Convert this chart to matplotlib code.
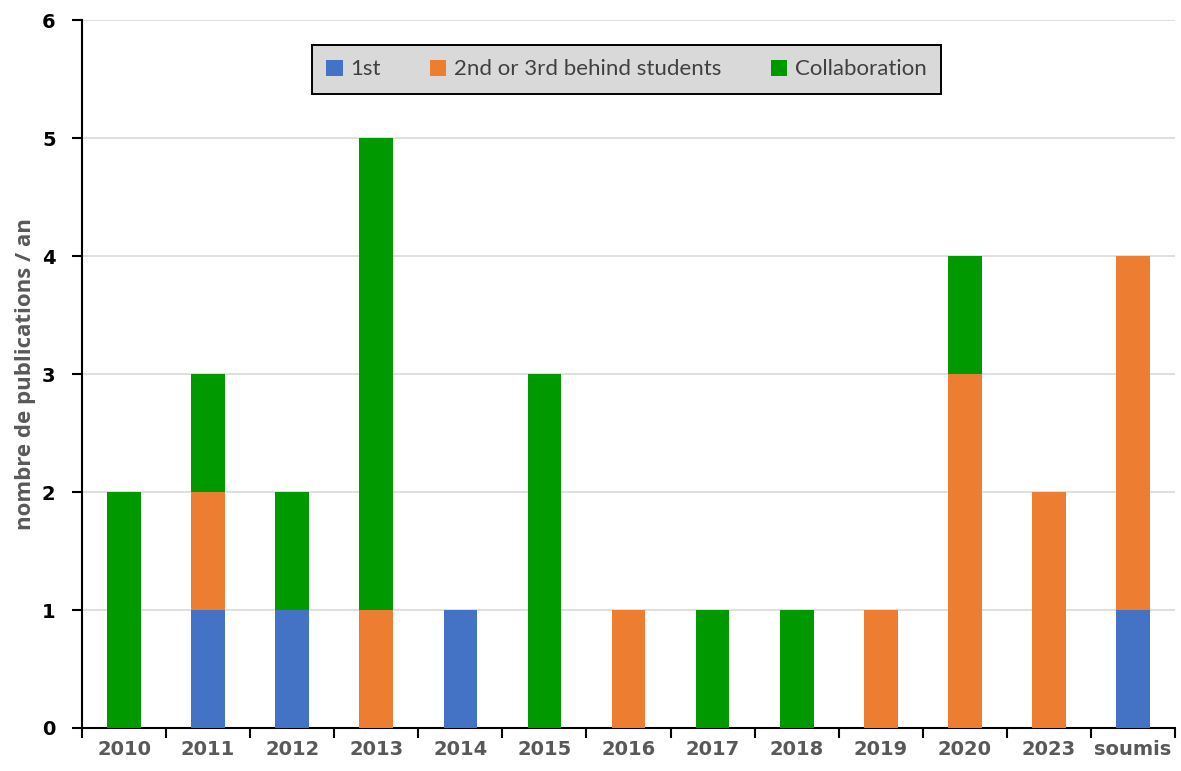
import numpy as np
import matplotlib.pyplot as plt

categories = ["2010", "2011", "2012", "2013", "2014", "2015", "2016",
              "2017", "2018", "2019", "2020", "2023", "soumis"]
first = [0, 1, 1, 0, 1, 0, 0, 0, 0, 0, 0, 0, 1]
second_third = [0, 1, 0, 1, 0, 0, 1, 0, 0, 1, 3, 2, 3]
collab = [2, 1, 1, 4, 0, 3, 0, 1, 1, 0, 1, 0, 0]

c_blue = "#4472c4"
c_orange = "#ed7d31"
c_green = "#009900"

fig = plt.figure(figsize=(11.81, 7.71), dpi=100)
ax = fig.add_axes([0.0694, 0.0558, 0.9256, 0.918])

x = np.arange(len(categories))
w = 0.4
first = np.array(first)
second_third = np.array(second_third)
collab = np.array(collab)

ax.bar(x, first, w, color=c_blue, label="1st", zorder=3)
ax.bar(x, second_third, w, bottom=first, color=c_orange,
       label="2nd or 3rd behind students", zorder=3)
ax.bar(x, collab, w, bottom=first + second_third, color=c_green,
       label="Collaboration", zorder=3)

ax.set_xlim(-0.5, len(categories) - 0.5)
ax.set_ylim(0, 6)
ax.set_yticks(range(7))
ax.yaxis.grid(True, color="#d9d9d9", linewidth=1.2, zorder=0)
ax.set_axisbelow(True)

# x ticks at category boundaries, labels centred
ax.set_xticks(np.arange(-0.5, len(categories)), minor=False)
ax.set_xticklabels([])
ax.set_xticks(x, minor=True)
ax.set_xticklabels(categories, minor=True)
ax.tick_params(axis="x", which="major", direction="out", length=7, width=1.5, color="black")
ax.tick_params(axis="x", which="minor", length=0, pad=9,
               labelsize=14, labelcolor="#595959")
for t in ax.get_xticklabels(minor=True):
    t.set_fontweight("bold")
ax.tick_params(axis="y", direction="out", length=7, width=1.5, labelsize=14, pad=12)
for t in ax.get_yticklabels():
    t.set_fontweight("bold")

for s in ["top", "right"]:
    ax.spines[s].set_visible(False)
ax.spines["left"].set_linewidth(1.5)
ax.spines["bottom"].set_linewidth(1.5)

ax.set_ylabel("nombre de publications / an", fontsize=16, fontweight="bold",
              color="#595959", family="Open Sans", labelpad=4)

leg = ax.legend(loc="upper center", bbox_to_anchor=(0.498, 0.965), ncol=3,
                frameon=True, fancybox=False, facecolor="#d9d9d9",
                edgecolor="black", framealpha=1, handlelength=0.75,
                handleheight=0.75, columnspacing=2.2, handletextpad=0.35,
                borderpad=0.65, borderaxespad=0,
                prop={"family": "Lato", "size": 16})
leg.get_frame().set_linewidth(1.4)
for t in leg.get_texts():
    t.set_color("#404040")

fig.savefig("out.png", dpi=100)
